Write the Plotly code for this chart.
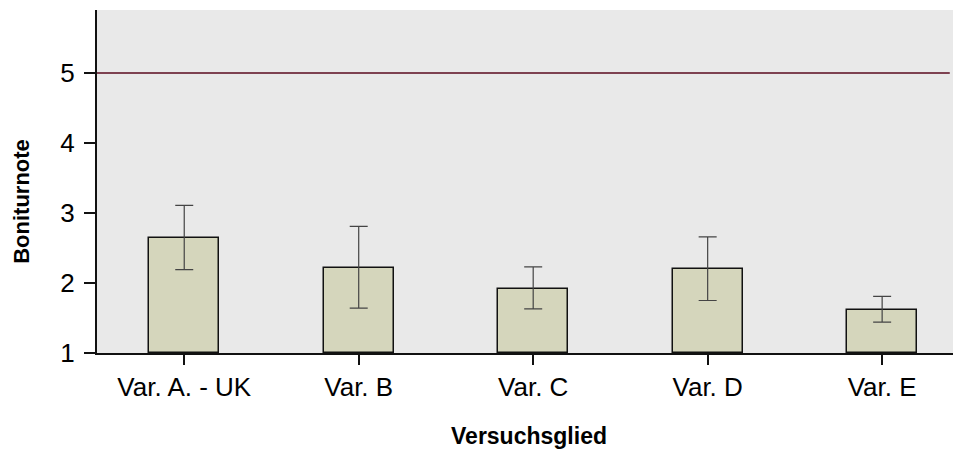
import plotly.graph_objects as go

categories = ["Var. A. - UK", "Var. B", "Var. C", "Var. D", "Var. E"]
means = [2.65, 2.22, 1.92, 2.20, 1.61]
err_upper = [3.11, 2.81, 2.23, 2.66, 1.81]
err_lower = [2.19, 1.64, 1.63, 1.75, 1.44]
ref_value = 5
y_ticks = [1, 2, 3, 4, 5]

plus = [u - m for u, m in zip(err_upper, means)]
minus = [m - l for m, l in zip(means, err_lower)]

fig = go.Figure()
fig.add_trace(go.Bar(
    x=list(range(len(categories))), y=[m - 1 for m in means], base=1,
    width=0.4,
    marker=dict(color="#d5d6bc", line=dict(color="#111111", width=1.5)),
    error_y=dict(type="data", symmetric=False, array=plus, arrayminus=minus,
                 color="#444444", thickness=1.2, width=9),
    showlegend=False,
))

fig.add_shape(type="line", xref="x domain", yref="y", x0=0, x1=0.987,
              y0=ref_value, y1=ref_value, line=dict(color="#5a0a1e", width=1.4))

fig.add_annotation(text="<b>Boniturnote</b>", xref="paper", x=0, xshift=-75,
                   xanchor="center", yref="y", y=3.16, yanchor="middle",
                   textangle=-90, showarrow=False, font=dict(size=22))

fig.update_layout(
    width=953, height=441,
    margin=dict(l=89, r=0, t=2, b=96),
    paper_bgcolor="white", plot_bgcolor="#e9e9e9",
    font=dict(family="Liberation Sans, Arial, sans-serif", color="black"),
    bargap=0,
)
fig.update_xaxes(
    range=[-0.5, 4.452], tickmode="array",
    tickvals=list(range(len(categories))), ticktext=categories,
    tickson="boundaries", ticks="outside", ticklen=10, tickwidth=1.5, tickcolor="#111",
    showline=True, linecolor="#111", linewidth=2, showgrid=False, zeroline=False,
    tickfont=dict(size=26),
    title=dict(text="<b>Versuchsglied</b>", font=dict(size=23), standoff=30),
)
fig.update_yaxes(
    range=[1, 5.9], tickmode="array", tickvals=y_ticks,
    ticks="outside", ticklen=11, tickwidth=2, tickcolor="#111",
    showline=True, linecolor="#111", linewidth=2, showgrid=False, zeroline=False,
    tickfont=dict(size=26), ticklabelstandoff=4,
)

fig.write_html("out.html")
